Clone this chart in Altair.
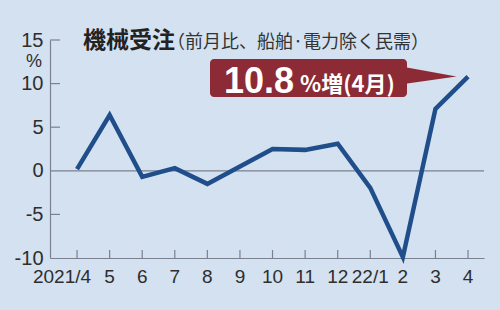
import altair as alt
import pandas as pd

months = ["2021/4", "5", "6", "7", "8", "9", "10", "11", "12", "22/1", "2", "3", "4"]
values = [0.2, 6.4, -0.7, 0.3, -1.5, 0.5, 2.5, 2.4, 3.1, -1.95, -9.9, 7.1, 10.8]
y_ticks = [-10, -5, 0, 5, 10, 15]

title_text = "機械受注"
subtitle_text = "（前月比、船舶·電力除く民需）"
callout_big = "10.8"
callout_small = "%増(4月)"
unit_text = "%"

BG = "#d3e1f0"
LINE = "#1f4e8a"
AXIS = "#7b8190"
RED = "#8c2b35"
TXT = "#2e2e2e"
NUMFONT = "Liberation Sans, Arial"
JPFONT = "Noto Sans CJK JP"

W, H = 434, 218

df = pd.DataFrame({"i": list(range(len(months))), "v": values})
one = pd.DataFrame({"a": [0]})
ytk = pd.DataFrame({"t": [t for t in y_ticks if t not in (0, -10)]})
xtk = pd.DataFrame({"i": list(range(len(months))), "m": months})

xscale = alt.Scale(domain=[-0.83, 12.49], nice=False, zero=False)
yscale = alt.Scale(domain=[-10, 15], nice=False, zero=False)

xenc = alt.X("i:Q", scale=xscale, axis=alt.Axis(
    labels=False, ticks=False, grid=False, domainColor=AXIS, domainWidth=1.2,
    title=None))
yenc = alt.Y("v:Q", scale=yscale, axis=alt.Axis(
    values=y_ticks, labelExpr="'' + datum.value", ticks=False, grid=False,
    domainColor=AXIS, domainWidth=1.2, labelFont=NUMFONT, labelFontSize=20,
    labelColor=TXT, labelPadding=7, labelOverlap=False, labelFlush=False,
    title=None))

zero = alt.Chart(one).mark_rule(color=AXIS, strokeWidth=1.2).encode(
    y=alt.datum(0, scale=yscale), x=alt.value(0), x2=alt.value(W))

yticks = alt.Chart(ytk).mark_rule(color=AXIS, strokeWidth=1.2).encode(
    y=alt.Y("t:Q", scale=yscale), x=alt.value(0), x2=alt.value(10))

xticks = alt.Chart(xtk).mark_rule(color=AXIS, strokeWidth=1.2).encode(
    x=alt.X("i:Q", scale=xscale), y=alt.value(H), y2=alt.value(H - 8))

xlabels_first = alt.Chart(xtk).transform_filter("datum.i == 0").mark_text(
    font=NUMFONT, fontSize=19, color=TXT, align="center", baseline="alphabetic",
    dx=-15).encode(
    x=alt.X("i:Q", scale=xscale), y=alt.value(H + 25), text="m:N")
xlabels_rest = alt.Chart(xtk).transform_filter("datum.i > 0").mark_text(
    font=NUMFONT, fontSize=19, color=TXT, align="center",
    baseline="alphabetic").encode(
    x=alt.X("i:Q", scale=xscale), y=alt.value(H + 25), text="m:N")

line = alt.Chart(df).mark_line(color=LINE, strokeWidth=4.5, strokeJoin="miter",
                               strokeCap="butt").encode(x=xenc, y=yenc)

title = alt.Chart(one).mark_text(text=title_text, font=JPFONT, fontSize=23,
                                 fontWeight="bold", color="#222222", align="left",
                                 baseline="alphabetic").encode(
    x=alt.value(33), y=alt.value(8))
subtitle = alt.Chart(one).mark_text(text=subtitle_text, font=JPFONT, fontSize=18,
                                    color="#333333", align="left",
                                    baseline="alphabetic").encode(
    x=alt.value(117), y=alt.value(8))
unit = alt.Chart(one).mark_text(text=unit_text, font=NUMFONT, fontSize=18,
                                color=TXT, align="right",
                                baseline="middle").encode(
    x=alt.value(-8), y=alt.value(22))

box = alt.Chart(one).mark_rect(color=RED, cornerRadius=4).encode(
    x=alt.value(160), x2=alt.value(357), y=alt.value(19), y2=alt.value(57))
pointer = alt.Chart(one).mark_point(
    shape="M-1,-0.3 L1,0.06 L-1,0.34 Z", filled=True, color=RED, opacity=1,
    size=2600).encode(x=alt.value(381), y=alt.value(35))
big = alt.Chart(one).mark_text(text=callout_big, font="Liberation Sans", fontSize=36,
                               fontWeight="bold", color="white", align="left",
                               baseline="alphabetic").encode(
    x=alt.value(174), y=alt.value(53))
small = alt.Chart(one).mark_text(text=callout_small, font=JPFONT, fontSize=22,
                                 fontWeight="bold", color="white", align="left",
                                 baseline="alphabetic").encode(
    x=alt.value(250), y=alt.value(52))

chart = alt.layer(zero, yticks, xticks, xlabels_first, xlabels_rest, line, title,
                  subtitle, unit, pointer, box, big, small).properties(
    width=W, height=H, background=BG,
    padding={"left": 50, "top": 40, "right": 16, "bottom": 52},
    autosize=alt.AutoSizeParams(type="none"),
).configure_view(stroke=None)

chart.save("out.html", embed_options={"renderer": "svg", "actions": False})
